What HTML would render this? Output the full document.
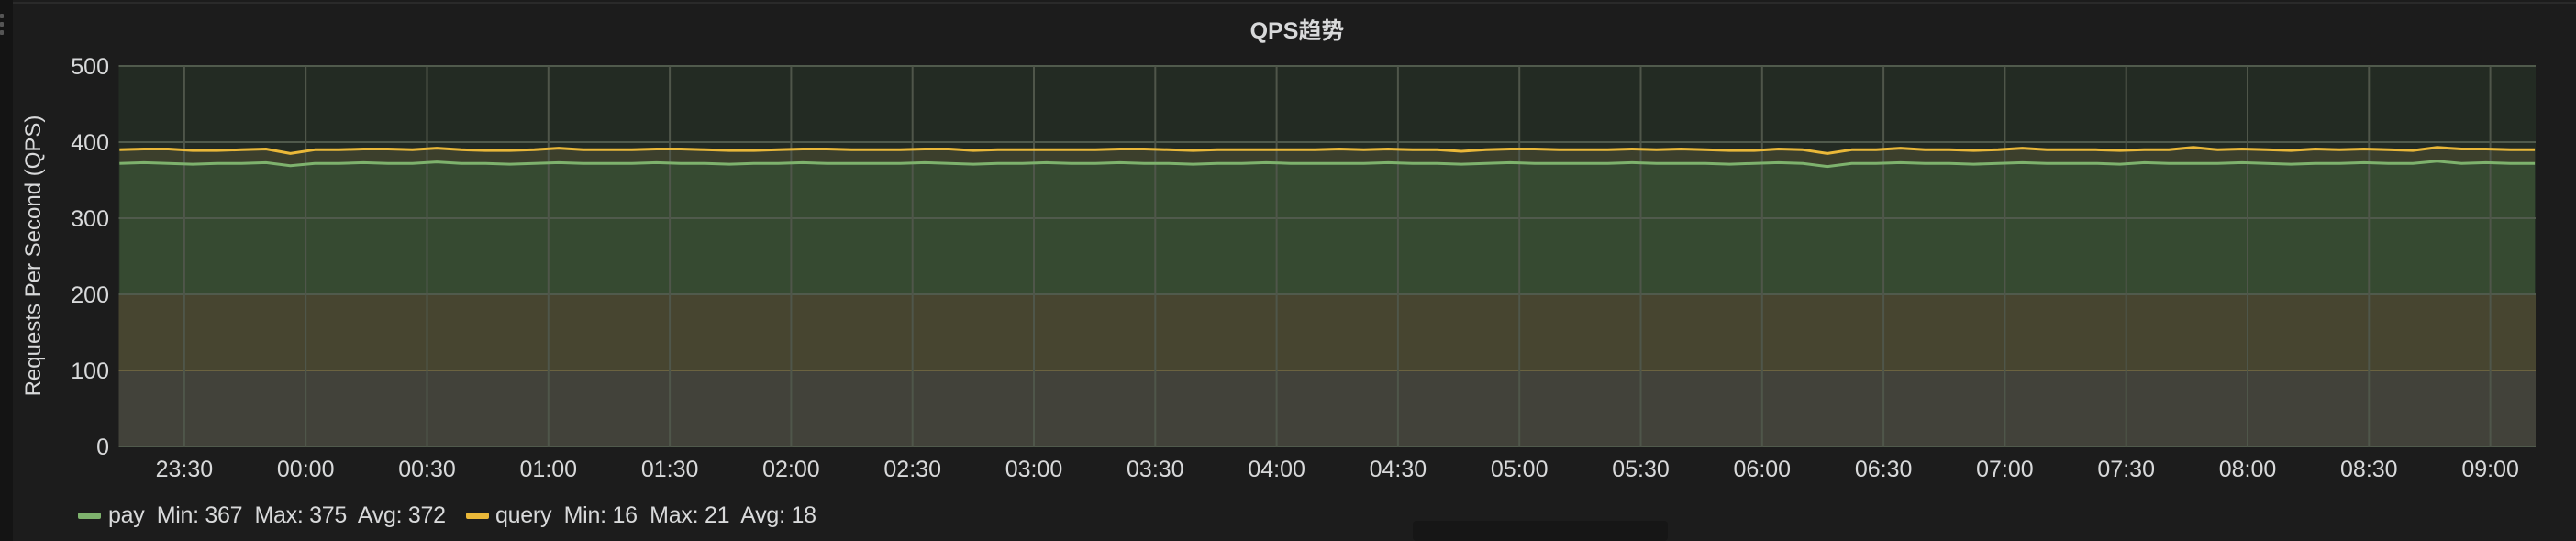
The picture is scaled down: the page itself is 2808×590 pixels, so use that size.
<!DOCTYPE html>
<html><head><meta charset="utf-8">
<style>
html,body{margin:0;padding:0;background:#1c1c1c;width:2808px;height:590px;overflow:hidden;font-family:"Liberation Sans","Noto Sans CJK SC",sans-serif;}
svg{display:block}
text{white-space:pre}
</style></head>
<body>
<svg id="chart" width="2808" height="590" xmlns="http://www.w3.org/2000/svg">
<rect x="0" y="0" width="2808" height="590" fill="#1c1c1c"/>
<rect x="0" y="0" width="14" height="590" fill="#141414"/>
<g fill="#555"><rect x="0" y="15" width="4" height="5" rx="1"/><rect x="0" y="24" width="4" height="5" rx="1"/><rect x="0" y="33" width="4" height="5" rx="1"/></g>
<rect x="14" y="2" width="2794" height="2" fill="#2a2a2a"/>
<text x="1414" y="42" fill="#d8d9da" font-size="25" font-weight="bold" text-anchor="middle">QPS趋势</text>
<text transform="translate(44,279) rotate(-90)" fill="#d8d9da" font-size="24" text-anchor="middle">Requests Per Second (QPS)</text>
<g id="plot"></g>
<rect x="1540" y="568" width="278" height="22" rx="4" fill="#161616"/>
<g>
<g>
<rect x="85" y="559" width="25" height="7" rx="2" fill="#7eb26d"/>
<text x="118" y="570" fill="#d8d9da" font-size="25" textLength="368">pay  Min: 367  Max: 375  Avg: 372</text>
</g>
<g>
<rect x="508" y="559" width="25" height="7" rx="2" fill="#eab839"/>
<text x="540" y="570" fill="#d8d9da" font-size="25" textLength="350">query  Min: 16  Max: 21  Avg: 18</text>
</g>
</g>
</svg>
<script>
const yTicks = [0,100,200,300,400,500];
const xTickLabels = ["23:30","00:00","00:30","01:00","01:30","02:00","02:30","03:00","03:30","04:00","04:30","05:00","05:30","06:00","06:30","07:00","07:30","08:00","08:30","09:00"];
const payValues = [372,373,372,371,372,372,373,369,372,372,373,372,372,374,372,372,371,372,373,372,372,372,373,372,372,371,372,372,373,372,372,372,372,373,372,371,372,372,373,372,372,373,372,372,371,372,372,373,372,372,372,372,373,372,372,371,372,373,372,372,372,372,373,372,372,372,371,372,373,372,368,372,372,373,372,372,371,372,373,372,372,372,371,373,372,372,372,373,372,371,372,372,373,372,372,375,372,373,372,372];
const queryValues = [18,18,19,18,17,18,18,16,18,18,18,19,18,18,18,17,18,18,19,18,18,18,18,19,18,18,17,18,18,19,18,18,18,18,19,18,18,18,17,18,18,18,19,18,18,18,18,17,18,18,19,18,18,18,18,17,18,18,19,18,18,18,18,18,19,18,18,17,18,18,17,18,18,19,18,18,18,18,19,18,18,18,18,17,18,21,18,18,18,18,19,18,18,18,17,18,19,18,18,18];
const startMin = -16, endMin = 581;

const L=129.5, R=2764, T=72, B=487;
const yScale = v => B - (v/500)*(B-T);
const xScale = m => 200.9 + m*(132.3/30);
const tOf = i => startMin + i*(endMin-startMin)/(payValues.length-1);
const NS="http://www.w3.org/2000/svg";
const plot=document.getElementById('plot');
function mk(tag, attrs){const e=document.createElementNS(NS,tag);for(const k in attrs)e.setAttribute(k,attrs[k]);plot.appendChild(e);return e;}

let e;
e=mk('rect',{x:L,y:T,width:R-L,height:B-T,fill:'#232b23'});



const payPts = payValues.map((v,i)=>[xScale(tOf(i)), yScale(v)]);
const qPts = queryValues.map((v,i)=>[xScale(tOf(i)), yScale(payValues[i]+v)]);
const ptsStr = p => p.map(q=>q[0].toFixed(1)+','+q[1].toFixed(1)).join(' ');

e=mk('polygon',{points: ptsStr(qPts)+' '+ptsStr(payPts.slice().reverse()), fill:'#3c3f2c'});


e=mk('polygon',{points: ptsStr(payPts)+' '+payPts[payPts.length-1][0]+','+B+' '+payPts[0][0]+','+B, fill:'#364a31'});



e=mk('rect',{x:L,y:yScale(200),width:R-L,height:yScale(100)-yScale(200),fill:'#474530'});


e=mk('rect',{x:L,y:yScale(100),width:R-L,height:B-yScale(100),fill:'#42423a'});



yTicks.forEach(v=>{
  const y=yScale(v);
  const g=mk('line',{x1:L,x2:R,y1:y,y2:y,stroke:v===100?'#6b6340':'#505a4c','stroke-width':2});
  
  
  const t=mk('text',{x:119,y:y+9,fill:'#d8d9da','font-size':25,'text-anchor':'end'});
  t.textContent=v;
  
  
});
xTickLabels.forEach((lab,i)=>{
  const x=xScale(i*30);
  const g=mk('line',{x1:x,x2:x,y1:T,y2:B,stroke:'#4f564a','stroke-width':2});
  
  
  const t=mk('text',{x:x,y:520,fill:'#d8d9da','font-size':25,'text-anchor':'middle'});
  t.textContent=lab;
  
  
});

e=mk('polyline',{points:ptsStr(payPts),fill:'none',stroke:'#7eb26d','stroke-width':3,'stroke-linejoin':'round'});


e=mk('polyline',{points:ptsStr(qPts),fill:'none',stroke:'#eab839','stroke-width':3,'stroke-linejoin':'round'});


</script>
</body></html>
